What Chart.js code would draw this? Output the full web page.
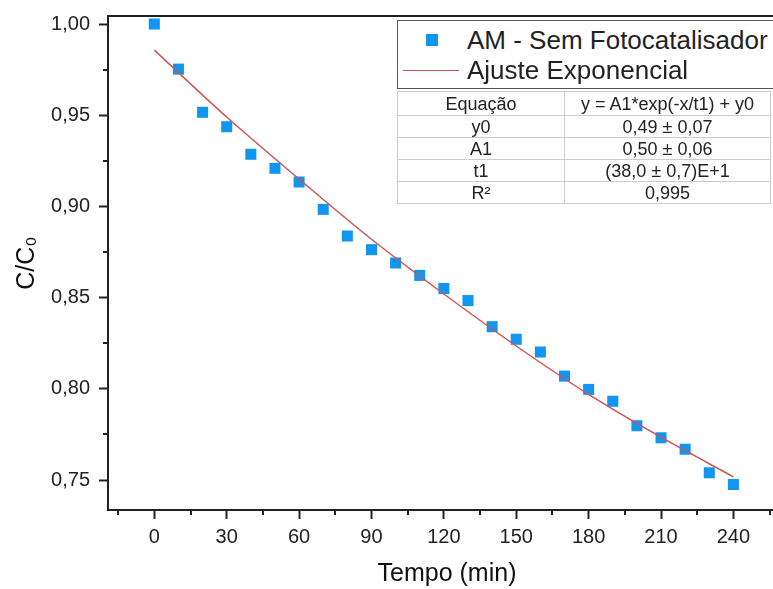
<!DOCTYPE html>
<html lang="pt">
<head>
<meta charset="utf-8">
<title>C/C0 vs Tempo</title>
<script src="https://cdn.jsdelivr.net/npm/chart.js"></script>
<style>
    html, body {
        margin: 0;
        padding: 0;
        background: #fff;
        overflow: hidden;
        font-family: "Liberation Sans", Arial, sans-serif;
    }
    #wrap {
        position: relative;
        width: 800px;
        height: 589px;
    }
    #legendBox {
        position: absolute;
        left: 397px;
        top: 20px;
        width: 400px;
        height: 67px;
        border: 1px solid #555;
        background: #fff;
        color: #222;
        font-size: 26px;
    }
    .leg-row {
        position: absolute;
        left: 0;
        height: 30px;
        line-height: 30px;
        white-space: nowrap;
    }
    .leg-text { position: absolute; left: 69px; top: 0; }
    .leg-sq { position: absolute; left: 28px; top: 9px; width: 12px; height: 12px; }
    .leg-ln { position: absolute; left: 5px; top: 15px; width: 56px; height: 0; border-top: 1.5px solid; }
    #fitTable {
        position: absolute;
        left: 397px;
        top: 91px;
        width: 374px;
        border-collapse: collapse;
        border: 1px solid #777;
        background: #fff;
        font-size: 18px;
        color: #222;
    }
    #fitTable td {
        border: 1px solid #ccc;
        text-align: center;
        padding: 0;
        height: 21px;
        line-height: 20px;
    }
    #fitTable td:first-child { width: 166px; }
</style>
</head>
<body>
<div id="wrap">
    <canvas id="myChart" width="800" height="589"></canvas>
    <div id="legendBox"></div>
    <table id="fitTable"></table>
</div>

<script>
    // measured points
    const tempo = [0, 10, 20, 30, 40, 50, 60, 70, 80, 90, 100, 110, 120,
                   130, 140, 150, 160, 170, 180, 190, 200, 210, 220, 230, 240];
    const cc0 = [1.000, 0.9753, 0.9516, 0.9437, 0.9286, 0.9209, 0.9134, 0.8984, 0.8838,
                 0.8763, 0.8690, 0.8622, 0.8550, 0.8484, 0.8341, 0.8272, 0.8202, 0.8070,
                 0.7997, 0.7932, 0.7798, 0.7732, 0.7669, 0.7540, 0.7476];

    // fitted curve
    const fitX = [0, 30, 60, 90, 120, 150, 180, 210, 240];
    const fitY = [0.9857, 0.9490, 0.9150, 0.8820, 0.8520, 0.8235, 0.7970, 0.7735, 0.7518];

    const seriesNames = ['AM - Sem Fotocatalisador', 'Ajuste Exponencial'];
    const pointColor = 'rgb(16, 150, 240)';
    const lineColor = 'rgb(205, 85, 85)';

    const xTicks = [0, 30, 60, 90, 120, 150, 180, 210, 240];
    const xMinor = [-15, 15, 45, 75, 105, 135, 165, 195, 225, 255];
    const yTicks = [0.75, 0.80, 0.85, 0.90, 0.95, 1.00];
    const yMinor = [0.775, 0.825, 0.875, 0.925, 0.975];

    const tableRows = [
        ['Equação', 'y = A1*exp(-x/t1) + y0'],
        ['y0', '0,49 ± 0,07'],
        ['A1', '0,50 ± 0,06'],
        ['t1', '(38,0 ± 0,7)E+1'],
        ['R²', '0,995']
    ];

    const axisColor = '#222';
    const fontFam = '"Liberation Sans", Arial, sans-serif';

    // frame + minor ticks
    const framePlugin = {
        id: 'frame',
        afterDraw(chart) {
            const ctx = chart.ctx;
            const a = chart.chartArea;
            const xs = chart.scales.x, ys = chart.scales.y;
            ctx.save();
            ctx.strokeStyle = axisColor;
            ctx.lineWidth = 2;
            ctx.strokeRect(a.left, a.top, a.right - a.left, a.bottom - a.top);
            ctx.beginPath();
            xMinor.forEach(v => {
                const px = Math.round(xs.getPixelForValue(v));
                ctx.moveTo(px, a.bottom);
                ctx.lineTo(px, a.bottom + 5);
            });
            yMinor.forEach(v => {
                const py = Math.round(ys.getPixelForValue(v));
                ctx.moveTo(a.left, py);
                ctx.lineTo(a.left - 5, py);
            });
            ctx.stroke();
            ctx.restore();
        }
    };

    const data = {
        datasets: [{
            label: seriesNames[0],
            data: tempo.map((t, i) => ({x: t, y: cc0[i]})),
            backgroundColor: pointColor,
            borderColor: pointColor,
            pointStyle: 'rect',
            pointRadius: 7.8,
            borderWidth: 0,
            order: 1
        }, {
            label: seriesNames[1],
            data: fitX.map((t, i) => ({x: t, y: fitY[i]})),
            showLine: true,
            borderColor: lineColor,
            borderWidth: 1.5,
            pointRadius: 0,
            cubicInterpolationMode: 'monotone',
            order: 0
        }]
    };

    const config = {
        type: 'scatter',
        data: data,
        plugins: [framePlugin],
        options: {
            responsive: false,
            animation: false,
            layout: {padding: {left: 0, top: 16, right: 14, bottom: 0}},
            plugins: {legend: {display: false}, tooltip: {enabled: false}},
            scales: {
                x: {
                    type: 'linear',
                    min: -19.2,
                    max: 261.8,
                    afterBuildTicks: s => { s.ticks = xTicks.map(v => ({value: v})); },
                    afterFit: s => { s.height = 79; s.paddingLeft = 0; s.paddingRight = 0; },
                    grid: {drawOnChartArea: false, tickLength: 9, tickWidth: 2, tickColor: axisColor},
                    border: {display: true, width: 2, color: axisColor},
                    ticks: {
                        color: '#222',
                        padding: 6,
                        maxRotation: 0,
                        font: {family: fontFam, size: 20},
                        callback: v => String(v)
                    },
                    title: {
                        display: true,
                        text: 'Tempo (min)',
                        color: '#111',
                        padding: {top: 0, bottom: 0},
                        font: {family: fontFam, size: 25}
                    }
                },
                y: {
                    type: 'linear',
                    min: 0.7336,
                    max: 1.0044,
                    afterBuildTicks: s => { s.ticks = yTicks.map(v => ({value: v})); },
                    afterFit: s => { s.width = 108; s.paddingTop = 0; s.paddingBottom = 0; },
                    grid: {drawOnChartArea: false, tickLength: 9, tickWidth: 2, tickColor: axisColor},
                    border: {display: true, width: 2, color: axisColor},
                    ticks: {
                        color: '#222',
                        padding: 9,
                        font: {family: fontFam, size: 20},
                        callback: v => v.toFixed(2).replace('.', ',')
                    },
                    title: {
                        display: true,
                        text: 'C/C₀',
                        color: '#111',
                        padding: {top: 12, bottom: 0},
                        font: {family: fontFam, size: 25}
                    }
                }
            }
        }
    };

    const myChart = new Chart(document.getElementById('myChart'), config);

    // legend built from the datasets
    const legendBox = document.getElementById('legendBox');
    data.datasets.forEach((ds, i) => {
        const row = document.createElement('div');
        row.className = 'leg-row';
        row.style.top = (i === 0 ? 4 : 34) + 'px';
        row.style.width = '100%';
        const mark = document.createElement('div');
        if (ds.showLine) {
            mark.className = 'leg-ln';
            mark.style.borderColor = ds.borderColor;
        } else {
            mark.className = 'leg-sq';
            mark.style.background = ds.backgroundColor;
        }
        const txt = document.createElement('span');
        txt.className = 'leg-text';
        txt.textContent = ds.label;
        row.appendChild(mark);
        row.appendChild(txt);
        legendBox.appendChild(row);
    });

    // parameter table
    const fitTable = document.getElementById('fitTable');
    tableRows.forEach((r, i) => {
        const tr = document.createElement('tr');
        r.forEach(c => {
            const td = document.createElement('td');
            td.textContent = c;
            if (i === 0) td.style.height = '23px';
            tr.appendChild(td);
        });
        fitTable.appendChild(tr);
    });
</script>
</body>
</html>
